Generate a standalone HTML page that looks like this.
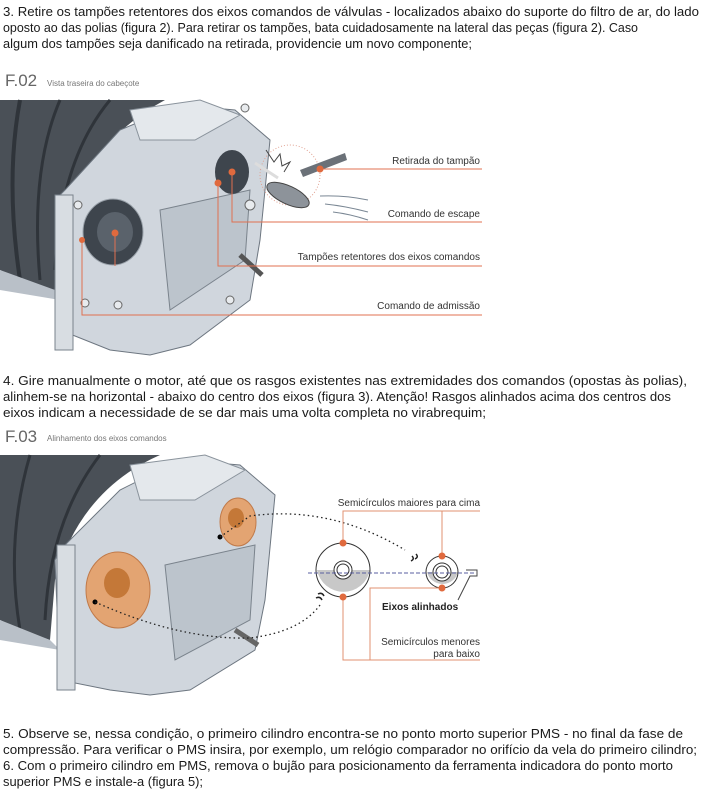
<!DOCTYPE html>
<html><head><meta charset="utf-8"><style>
html,body{margin:0;padding:0;background:#fff;width:706px;height:811px;overflow:hidden}
svg{display:block}
.t{font-family:"Liberation Sans",Arial,sans-serif;font-size:13px;fill:#1a1a1a}
.l{font-family:"Liberation Sans",Arial,sans-serif;font-size:10px;fill:#333}
.f{font-family:"Liberation Sans",Arial,sans-serif;font-size:17px;fill:#666}
.c{font-family:"Liberation Sans",Arial,sans-serif;font-size:8px;fill:#777}
</style></head><body>
<svg width="706" height="811" viewBox="0 0 706 811" xmlns="http://www.w3.org/2000/svg">
<text class="t" x="3" y="16" textLength="696" lengthAdjust="spacingAndGlyphs">3. Retire os tampões retentores dos eixos comandos de válvulas - localizados abaixo do suporte do filtro de ar, do lado</text>
<text class="t" x="3" y="32" textLength="635" lengthAdjust="spacingAndGlyphs">oposto ao das polias (figura 2). Para retirar os tampões, bata cuidadosamente na lateral das peças (figura 2). Caso</text>
<text class="t" x="3" y="48" textLength="469" lengthAdjust="spacingAndGlyphs">algum dos tampões seja danificado na retirada, providencie um novo componente;</text>
<text class="f" x="5" y="86">F.02</text><text class="c" x="47" y="86">Vista traseira do cabeçote</text>

<!-- Figure 2 -->
<g>
<path d="M0,100 L165,100 Q90,140 60,230 L55,290 L30,285 L0,270 Z" fill="#4a5057"/>
<path d="M20,100 Q5,180 20,280" stroke="#2f343a" stroke-width="4" fill="none"/>
<path d="M60,100 Q30,170 40,280" stroke="#2f343a" stroke-width="3" fill="none"/>
<path d="M110,100 Q60,160 55,270" stroke="#2f343a" stroke-width="3" fill="none"/>
<path d="M0,270 L55,290 L60,300 L0,290 Z" fill="#b9c0c8"/>
<path d="M65,190 L120,130 L180,105 L235,110 L270,140 L260,240 L250,300 L190,345 L150,355 L110,350 L60,330 L55,200 Z" fill="#d0d6dd" stroke="#6d7680" stroke-width="1"/>
<path d="M130,110 L200,100 L240,115 L195,140 L140,140 Z" fill="#e4e8ec" stroke="#8a939c"/>
<rect x="55" y="195" width="18" height="155" fill="#d8dde2" stroke="#7a838c"/>
<path d="M160,210 L250,190 L245,260 L170,310 Z" fill="#bcc4cc" stroke="#7a838c"/>
<ellipse cx="113" cy="232" rx="30" ry="33" fill="#3e454d" stroke="#9aa2aa"/>
<ellipse cx="115" cy="232" rx="18" ry="20" fill="#5a626b"/>
<ellipse cx="232" cy="172" rx="17" ry="22" fill="#3e454d"/>
<path d="M240,255 L262,275" stroke="#555" stroke-width="5"/>
<circle cx="78" cy="205" r="4" fill="#e8ebee" stroke="#666"/><circle cx="85" cy="303" r="4" fill="#e8ebee" stroke="#666"/><circle cx="245" cy="108" r="4" fill="#e8ebee" stroke="#666"/><circle cx="118" cy="305" r="4" fill="#e8ebee" stroke="#666"/><circle cx="230" cy="300" r="4" fill="#e8ebee" stroke="#666"/><circle cx="250" cy="205" r="5" fill="#e8ebee" stroke="#666"/>
<circle cx="290" cy="175" r="30" fill="none" stroke="#e0a090" stroke-dasharray="1 2"/>
<path d="M300,170 L345,153 L347,160 L303,177 Z" fill="#6b7178"/>
<ellipse cx="288" cy="195" rx="23" ry="9" transform="rotate(25 288 195)" fill="#8d939a" stroke="#444"/>
<path d="M255,163 L278,178" stroke="#ddd" stroke-width="3"/>
<path d="M266,150 l8,12 l6,-8 l2,12 l8,-4 l-6,10" stroke="#444" fill="#fff"/>
<path d="M320,196 Q345,195 368,200 M325,204 Q345,206 368,212 M333,212 Q350,214 368,220" stroke="#7a8794" fill="none"/>
<g stroke="#e07050" stroke-width="1" fill="none">
<path d="M320,169 H482"/><path d="M232,172 V222 H482"/><path d="M218,183 V266 H482 M115,233 V266"/><path d="M82,240 V315 H482"/>
</g>
<g fill="#e06a3e"><circle cx="320" cy="169" r="3.5"/><circle cx="232" cy="172" r="3.5"/><circle cx="218" cy="183" r="3.5"/><circle cx="115" cy="233" r="3.5"/><circle cx="82" cy="240" r="3"/></g>
<text class="l" x="480" y="164" text-anchor="end">Retirada do tampão</text>
<text class="l" x="480" y="217" text-anchor="end">Comando de escape</text>
<text class="l" x="480" y="260" text-anchor="end">Tampões retentores dos eixos comandos</text>
<text class="l" x="480" y="309" text-anchor="end">Comando de admissão</text>
</g>

<text class="t" x="3" y="385" textLength="684" lengthAdjust="spacingAndGlyphs">4. Gire manualmente o motor, até que os rasgos existentes nas extremidades dos comandos (opostas às polias),</text>
<text class="t" x="3" y="401" textLength="668" lengthAdjust="spacingAndGlyphs">alinhem-se na horizontal - abaixo do centro dos eixos (figura 3). Atenção! Rasgos alinhados acima dos centros dos</text>
<text class="t" x="3" y="417" textLength="483" lengthAdjust="spacingAndGlyphs">eixos indicam a necessidade de se dar mais uma volta completa no virabrequim;</text>
<text class="f" x="5" y="442">F.03</text><text class="c" x="47" y="441">Alinhamento dos eixos comandos</text>

<!-- Figure 3 -->
<g>
<path d="M0,455 L160,455 Q80,490 55,580 L50,640 L20,630 L0,620 Z" fill="#4a5057"/>
<path d="M30,455 Q5,540 20,630" stroke="#2f343a" stroke-width="3" fill="none"/>
<path d="M100,455 Q50,520 45,620" stroke="#2f343a" stroke-width="3" fill="none"/>
<path d="M0,620 L50,640 L60,650 L0,640 Z" fill="#b9c0c8"/>
<path d="M60,550 L120,490 L180,460 L240,465 L275,495 L265,600 L255,650 L190,690 L150,695 L110,690 L60,680 L55,560 Z" fill="#d0d6dd" stroke="#6d7680"/>
<path d="M130,465 L205,455 L245,470 L195,500 L140,500 Z" fill="#e4e8ec" stroke="#8a939c"/>
<rect x="57" y="545" width="18" height="145" fill="#d8dde2" stroke="#7a838c"/>
<path d="M165,565 L255,545 L250,620 L175,660 Z" fill="#bcc4cc" stroke="#7a838c"/>
<ellipse cx="118" cy="590" rx="32" ry="38" fill="#e3a472" stroke="#c07a4a"/>
<ellipse cx="117" cy="583" rx="13" ry="15" fill="#c47838"/>
<ellipse cx="238" cy="522" rx="18" ry="24" fill="#e3a472" stroke="#c07a4a"/>
<ellipse cx="236" cy="518" rx="8" ry="10" fill="#c47838"/>
<path d="M235,630 L258,645" stroke="#666" stroke-width="5"/>
<circle cx="95" cy="602" r="2.5" fill="#000"/><circle cx="220" cy="537" r="2.5" fill="#000"/>
<path d="M95,602 Q180,640 250,638 Q300,632 320,605" stroke="#222" stroke-width="1.3" stroke-dasharray="1.5 3" fill="none"/>
<path d="M220,537 L250,516 Q330,505 405,550" stroke="#222" stroke-width="1.3" stroke-dasharray="1.5 3" fill="none"/>
<path d="M316,598 q4,-2 6,2 M318,594 q4,-2 6,2 M412,556 q3,3 -1,5 M416,554 q3,3 -1,5" stroke="#222" stroke-width="1.5" fill="none"/>
<path d="M317,570 A27,27 0 0 0 370,570 Z" fill="#c8c8c8"/>
<circle cx="343" cy="570" r="27" fill="none" stroke="#333"/>
<circle cx="343" cy="570" r="9" fill="#fff" stroke="#333"/><circle cx="343" cy="570" r="6" fill="none" stroke="#333"/>
<path d="M427,572 A16,16 0 0 0 458,572 Z" fill="#c8c8c8"/>
<circle cx="442" cy="572" r="16" fill="none" stroke="#333"/>
<circle cx="442" cy="572" r="9" fill="#fff" stroke="#333"/><circle cx="442" cy="572" r="6" fill="none" stroke="#333"/>
<path d="M308,573 H475" stroke="#5a5fa0" stroke-dasharray="4 2"/>
<path d="M466,570 H477 V576 H470 L458,600" stroke="#444" fill="none"/>
<g stroke="#e09070" fill="none"><path d="M343,543 V511 H480 M442,556 V511"/><path d="M343,597 V660 H480 M442,588 H370 V660"/></g>
<g fill="#e06a3e"><circle cx="343" cy="543" r="3.5"/><circle cx="442" cy="556" r="3.5"/><circle cx="343" cy="597" r="3.5"/><circle cx="442" cy="588" r="3.5"/></g>
<text class="l" x="480" y="506" text-anchor="end">Semicírculos maiores para cima</text>
<text class="l" x="382" y="610" style="font-weight:bold;fill:#222">Eixos alinhados</text>
<text class="l" x="480" y="645" text-anchor="end">Semicírculos menores</text>
<text class="l" x="480" y="657" text-anchor="end">para baixo</text>
</g>

<text class="t" x="3" y="738" textLength="680" lengthAdjust="spacingAndGlyphs">5. Observe se, nessa condição, o primeiro cilindro encontra-se no ponto morto superior PMS - no final da fase de</text>
<text class="t" x="3" y="754" textLength="694" lengthAdjust="spacingAndGlyphs">compressão. Para verificar o PMS insira, por exemplo, um relógio comparador no orifício da vela do primeiro cilindro;</text>
<text class="t" x="3" y="770" textLength="670" lengthAdjust="spacingAndGlyphs">6. Com o primeiro cilindro em PMS, remova o bujão para posicionamento da ferramenta indicadora do ponto morto</text>
<text class="t" x="3" y="786" textLength="200" lengthAdjust="spacingAndGlyphs">superior PMS e instale-a (figura 5);</text>
</svg>
</body></html>
